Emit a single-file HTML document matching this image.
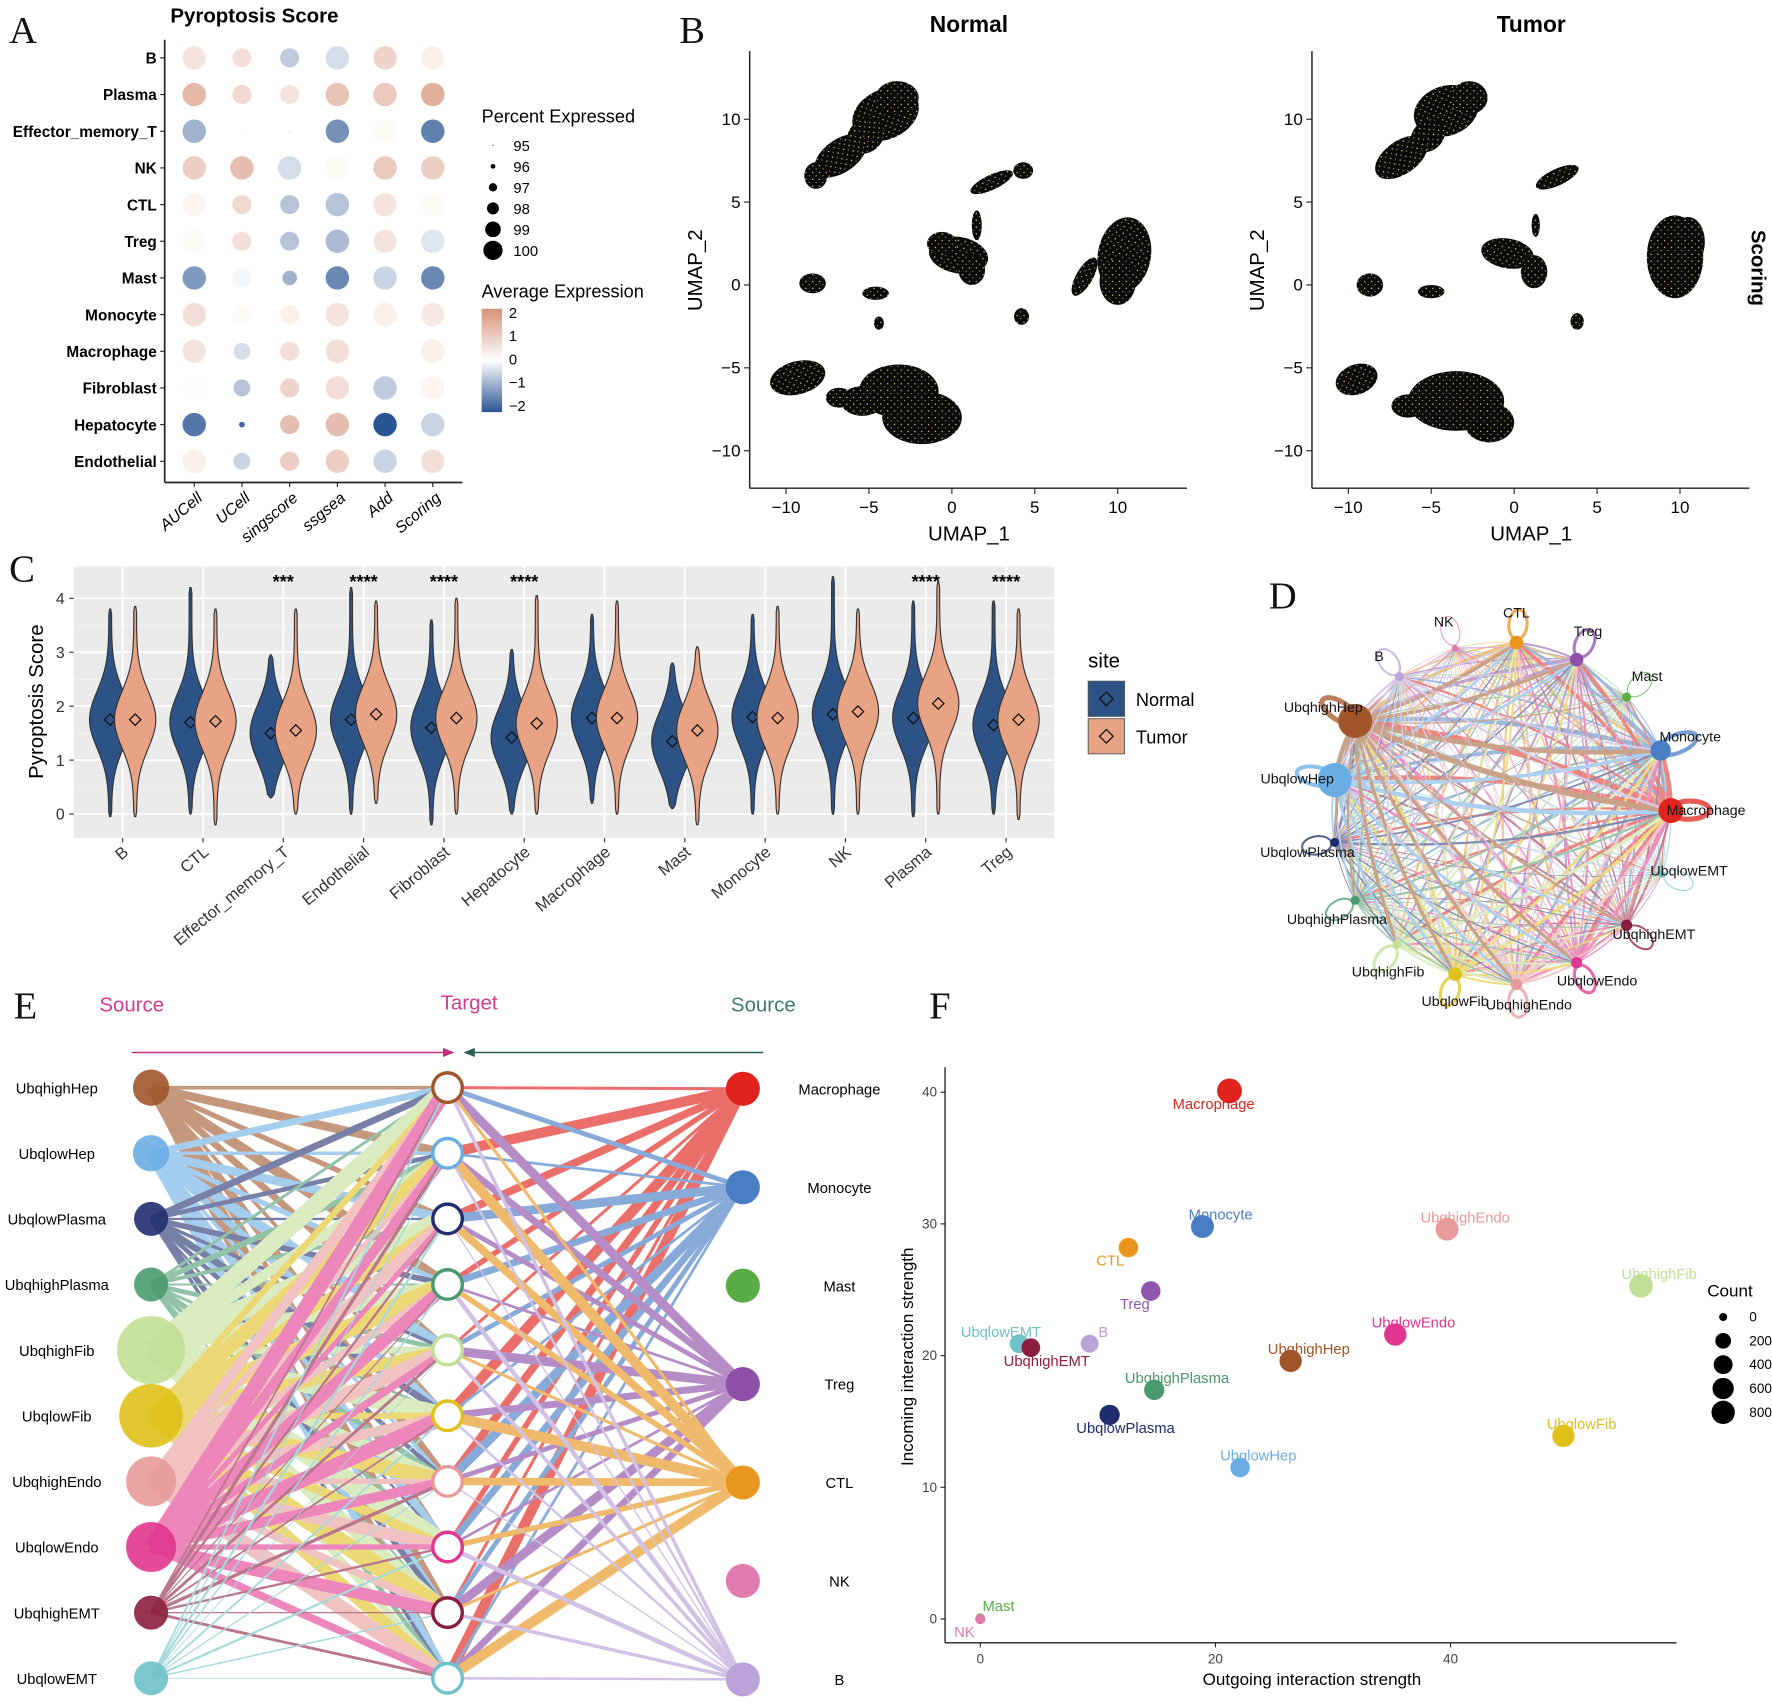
<!DOCTYPE html>
<html><head><meta charset="utf-8"><style>
html,body{margin:0;padding:0;background:#fff;}
svg{display:block;font-family:"Liberation Sans",sans-serif;}
</style></head><body>
<svg id="fig" width="1772" height="1703" viewBox="0 0 1560 1500" preserveAspectRatio="none" xmlns="http://www.w3.org/2000/svg">
<defs>
<pattern id="speck" width="6" height="6" patternUnits="userSpaceOnUse">
<rect width="6" height="6" fill="#0b0b0b"/>
<circle cx="1.5" cy="2" r="0.6" fill="#e9d99a"/><circle cx="4.5" cy="4.8" r="0.5" fill="#d9c27a"/>
</pattern>
<linearGradient id="cbar" x1="0" y1="0" x2="0" y2="1">
<stop offset="0" stop-color="#d6937a"/><stop offset="0.5" stop-color="#ffffff"/><stop offset="1" stop-color="#2b5592"/>
</linearGradient>
</defs>
<g id="letters" font-family="Liberation Serif, serif" font-size="34" fill="#111">
<text x="8" y="38">A</text>
<text x="598" y="38">B</text>
<text x="8" y="512">C</text>
<text x="1117" y="536">D</text>
<text x="12" y="897">E</text>
<text x="818" y="897">F</text>
</g>
<g id="pa"></g><g id="pb"></g><g id="pc"></g><g id="pd"></g><g id="pe"></g><g id="pf"></g>
</svg>
<script>
const NS="http://www.w3.org/2000/svg";
function el(parent,tag,attrs,text){const e=document.createElementNS(NS,tag);for(const k in attrs)e.setAttribute(k,attrs[k]);if(text!==undefined)e.textContent=text;parent.appendChild(e);return e;}

// ---------- Panel A data ----------
const aRows=["B","Plasma","Effector_memory_T","NK","CTL","Treg","Mast","Monocyte","Macrophage","Fibroblast","Hepatocyte","Endothelial"];
const aCols=["AUCell","UCell","singscore","ssgsea","Add","Scoring"];
const aExpr=[[0.5,0.6,-0.6,-0.4,0.8,0.3],[1.3,0.7,0.5,1.1,1.0,1.5],[-0.9,-0.2,-0.5,-1.3,0.1,-1.5],[0.9,1.2,-0.4,0.1,1.0,0.9],[0.2,0.7,-0.7,-0.7,0.5,0.1],[0.1,0.6,-0.7,-0.8,0.5,-0.3],[-1.2,-0.1,-0.9,-1.4,-0.5,-1.4],[0.6,0.1,0.3,0.5,0.3,0.4],[0.5,-0.4,0.6,0.6,0.0,0.3],[0.05,-0.7,0.8,0.6,-0.6,0.2],[-1.6,-1.8,1.2,1.2,-2.0,-0.5],[0.3,-0.5,0.9,0.9,-0.5,0.6]];
const aPct=[[100,99,99,100,100,100],[100,99,99,100,100,100],[100,95,95,100,100,100],[100,100,100,100,100,100],[100,99,99,100,100,100],[100,99,99,100,100,100],[100,99,98,100,100,100],[100,99,99,100,100,100],[100,98.5,99,100,100,100],[100,98.5,99,100,100,100],[100,96,99,100,100,100],[100,98.5,99,100,100,100]];
const aSizeTicks=[95,96,97,98,99,100];
const aColorTicks=[2,1,0,-1,-2];

// ---------- Panel C data ----------
const cCats=["B","CTL","Effector_memory_T","Endothelial","Fibroblast","Hepatocyte","Macrophage","Mast","Monocyte","NK","Plasma","Treg"];
const cNormMed=[1.75,1.7,1.5,1.75,1.6,1.42,1.78,1.35,1.8,1.85,1.78,1.65];
const cTumMed=[1.75,1.72,1.55,1.85,1.78,1.68,1.78,1.55,1.78,1.9,2.05,1.75];
const cNormMax=[3.8,4.2,2.95,4.2,3.6,3.05,3.7,2.8,3.7,4.4,3.95,3.95];
const cTumMax=[3.85,3.8,3.8,3.95,4.0,4.05,3.95,3.1,3.85,3.8,4.3,3.8];
const cNormMin=[-0.05,0.0,0.3,0.0,-0.2,0.0,0.2,0.1,0.0,0.0,-0.05,0.0];
const cTumMin=[-0.05,-0.2,0.0,0.2,0.0,0.0,0.0,-0.2,0.0,0.0,0.0,-0.1];
const cStars=["","","***","****","****","****","","","","","****","****"];
const cYTicks=[0,1,2,3,4];

// ---------- Panel F data ----------
const fNames=["Macrophage","Monocyte","UbqhighEndo","UbqhighFib","CTL","Treg","UbqlowEMT","UbqhighEMT","B","UbqhighHep","UbqlowEndo","UbqhighPlasma","UbqlowPlasma","UbqlowFib","UbqlowHep","Mast","NK"];
const fOut=[21.2,18.9,39.7,56.2,12.6,14.5,3.3,4.3,9.3,26.4,35.3,14.8,11.0,49.6,22.1,0.0,0.0];
const fIn=[40.1,29.8,29.6,25.3,28.2,24.9,20.9,20.6,20.9,19.6,21.6,17.4,15.5,13.9,11.5,0.1,0.0];
const fCount=[800,650,650,700,400,400,350,350,300,600,600,450,450,600,400,10,30];
const fColors=["#e0231c","#4a7ec4","#e89a9a","#c3df95","#e8961e","#9057b0","#6ec1c8","#8b1e3f","#b9a3d8","#a0552a","#e0368f","#4a9a6e","#1f2d6e","#e0c11a","#6aade4","#5aac44","#e07bb0"];
const fXTicks=[0,20,40];
const fYTicks=[0,10,20,30,40];
const fCountTicks=[0,200,400,600,800];

// ---------- Panel E data ----------
const eLeft=["UbqhighHep","UbqlowHep","UbqlowPlasma","UbqhighPlasma","UbqhighFib","UbqlowFib","UbqhighEndo","UbqlowEndo","UbqhighEMT","UbqlowEMT"];
const eLeftCol=["#a0552a","#6aade4","#1f2d6e","#4a9a6e","#c3df95","#e0c11a","#e89a9a","#e0368f","#8b1e3f","#6ec1c8"];
const eLeftSize=[16,16,15,15,30,28,22,22,15,15];
const eLeftW=[9,9,6,5,18,16,13,13,3,2];
const eRight=["Macrophage","Monocyte","Mast","Treg","CTL","NK","B"];
const eRightCol=["#e0231c","#4a7ec4","#5aac44","#8e4fa8","#e8961e","#e07bb0","#b9a3d8"];
const eRightW=[9,8,0,8,9,0,4];

// ---------- Panel D data ----------
const dNodes=["NK","CTL","Treg","Mast","Monocyte","Macrophage","UbqlowEMT","UbqhighEMT","UbqlowEndo","UbqhighEndo","UbqlowFib","UbqhighFib","UbqhighPlasma","UbqlowPlasma","UbqlowHep","UbqhighHep","B"];
const dCols=["#e07bb0","#e8961e","#8e4fa8","#5aac44","#4a7ec4","#e0231c","#6ec1c8","#8b1e3f","#e0368f","#e89a9a","#e0c11a","#c3df95","#4a9a6e","#1f2d6e","#6aade4","#a0552a","#b9a3d8"];
const dSize=[3,6,6,4,9,11,3,5,5,5,6,4,4,4,15,15,4];
const dWeight=[1,3,3,1,4,5,1,2,3,3,3,3,2,2,4,5,2];
// node layout (pixel positions, not data)
const dPos=[[1281,571],[1335,566],[1388,581],[1432,614],[1462,661],[1471,714],[1463,770],[1432,815],[1388,848],[1335,867],[1281,858],[1230,832],[1193,793],[1175,742],[1175,687],[1193,635],[1232,596]];
const dLab=[[1271,552,'middle'],[1335,544,'middle'],[1398,560,'middle'],[1450,600,'middle'],[1488,653,'middle'],[1502,718,'middle'],[1487,771,'middle'],[1456,827,'middle'],[1406,868,'middle'],[1346,889,'middle'],[1281,886,'middle'],[1222,860,'middle'],[1177,814,'middle'],[1151,755,'middle'],[1142,690,'middle'],[1165,627,'middle'],[1214,582,'middle']];

// ===== Panel A =====
(function(){
const g=document.getElementById('pa');
const x0=171,dx=42,y0=51,dy=32.3;
const X=i=>x0+i*dx,Y=r=>y0+r*dy;
function col(v){v=Math.max(-2,Math.min(2,v));let t=Math.abs(v)/2;let c=v>=0?[214,147,122]:[43,85,146];let r=Math.round(255+(c[0]-255)*t),gg=Math.round(255+(c[1]-255)*t),b=Math.round(255+(c[2]-255)*t);return `rgb(${r},${gg},${b})`;}
const rad=p=>Math.max(0.6,(p-94.7)*1.95);
el(g,'text',{x:224,y:20,'font-size':18,'font-weight':'bold','text-anchor':'middle',},'Pyroptosis Score');
el(g,'line',{x1:145,y1:35,x2:145,y2:425,stroke:'#222','stroke-width':1.5,});
el(g,'line',{x1:145,y1:425,x2:407,y2:425,stroke:'#222','stroke-width':1.5,});
aRows.forEach((r,ri)=>{
 const t=el(g,'text',{x:138,y:Y(ri)+5,'font-size':13.5,'font-weight':'bold','text-anchor':'end'},r);
 
 
 el(g,'line',{x1:141,y1:Y(ri),x2:145,y2:Y(ri),stroke:'#222'});
 aCols.forEach((c,ci)=>{
  const d=el(g,'circle',{cx:X(ci),cy:Y(ri),r:rad(aPct[ri][ci]),fill:col(aExpr[ri][ci])});
  
  
 });
});
aCols.forEach((c,ci)=>{
 el(g,'line',{x1:X(ci),y1:425,x2:X(ci),y2:429,stroke:'#222'});
 const t=el(g,'text',{x:X(ci)+8,y:440,'font-size':14,'font-style':'italic','text-anchor':'end',transform:`rotate(-40 ${X(ci)+8} 440)`},c);
 
 
});
el(g,'text',{x:424,y:108,'font-size':16,},'Percent Expressed');
aSizeTicks.forEach((p,i)=>{const yy=128+i*18.5;
 const c=el(g,'circle',{cx:434,cy:yy,r:rad(p)*0.82,fill:'#000'});
 
 el(g,'text',{x:452,y:yy+5,'font-size':13},String(p));});
el(g,'text',{x:424,y:262,'font-size':16,},'Average Expression');
el(g,'rect',{x:424,y:272,width:18,height:91,fill:'url(#cbar)',});
aColorTicks.forEach((v,i)=>{const yy=275+i*20.5;el(g,'text',{x:448,y:yy+5,'font-size':13},v<0?'\u2212'+(-v):String(v));});
})();

// ===== Panel B =====
const bNormal=[[-4,10.3,2.1,1.5,-25],[-3.3,11.3,1.3,1.0,0],[-5.2,9.0,1.2,1.0,-40],[-6.7,7.8,1.8,1.0,-35],[-8.2,6.6,0.7,0.8,0],[2.4,6.2,1.4,0.45,-25],[4.3,6.9,0.6,0.5,0],[0.4,1.8,1.8,1.1,10],[-0.6,2.5,0.9,0.7,0],[1.5,3.6,0.3,0.9,0],[1.2,0.9,0.8,0.9,0],[10.4,1.8,1.6,2.3,10],[10.0,0.2,1.1,1.4,0],[8.0,0.5,0.5,1.3,30],[-8.4,0.1,0.8,0.6,0],[-4.6,-0.5,0.8,0.4,0],[-4.4,-2.3,0.3,0.4,0],[4.2,-1.9,0.45,0.5,0],[-9.3,-5.6,1.7,1.0,-15],[-3.2,-6.4,2.4,1.6,0],[-1.8,-8.0,2.4,1.6,0],[-5.4,-7.0,1.3,0.9,0],[-6.8,-6.8,0.8,0.6,0]];
const bTumor=[[-4.1,10.5,2.0,1.5,-20],[-2.7,11.3,1.1,1.0,0],[-5.2,9.0,1.1,0.9,-40],[-6.8,7.7,1.8,1.0,-35],[2.6,6.5,1.4,0.5,-25],[-0.4,1.9,1.6,0.9,10],[1.2,0.8,0.8,1.0,0],[1.3,3.6,0.25,0.7,0],[9.7,1.7,1.7,2.5,0],[10.5,2.6,1.0,1.5,0],[-8.7,0.0,0.8,0.7,0],[-5.0,-0.4,0.8,0.4,0],[3.8,-2.2,0.4,0.5,0],[-9.5,-5.7,1.3,0.9,-20],[-3.5,-7.0,2.9,1.8,0],[-1.5,-8.3,1.5,1.2,0],[-6.4,-7.3,1.0,0.7,0]];
const bXTicks=[-10,-5,0,5,10];
const bYTicks=[-10,-5,0,5,10];
(function(){
const g=document.getElementById('pb');
function umap(ox,title,clusters,key){
 const Y=v=>251-14.6*v;
 const ax=ox;
 const sx=v=>ox+178+14.6*v;
 const gg=el(g,'g',{});
 
 
 el(gg,'text',{x:ox+193,y:28,'font-size':20,'font-weight':'bold','text-anchor':'middle'},title);
 clusters.forEach(c=>{
  const e=el(gg,'ellipse',{cx:sx(c[0]),cy:Y(c[1]),rx:c[2]*14.6,ry:c[3]*14.6,fill:'url(#speck)',transform:`rotate(${c[4]} ${sx(c[0])} ${Y(c[1])})`});
  
  
 });
 el(gg,'line',{x1:ax,y1:45,x2:ax,y2:430,stroke:'#222','stroke-width':1.3});
 el(gg,'line',{x1:ax,y1:430,x2:ax+385,y2:430,stroke:'#222','stroke-width':1.3});
 bXTicks.forEach(v=>{el(gg,'line',{x1:sx(v),y1:430,x2:sx(v),y2:435,stroke:'#222'});el(gg,'text',{x:sx(v),y:452,'font-size':15,'text-anchor':'middle'},v<0?'\u2212'+(-v):String(v));});
 bYTicks.forEach(v=>{el(gg,'line',{x1:ax-5,y1:Y(v),x2:ax,y2:Y(v),stroke:'#222'});el(gg,'text',{x:ax-8,y:Y(v)+5,'font-size':15,'text-anchor':'end'},v<0?'\u2212'+(-v):String(v));});
 el(gg,'text',{x:ax+193,y:476,'font-size':18,'text-anchor':'middle'},'UMAP_1');
 el(gg,'text',{x:ax-42,y:238,'font-size':18,'text-anchor':'middle',transform:`rotate(-90 ${ax-42} 238)`},'UMAP_2');
}
umap(660,'Normal',bNormal,'normal');
umap(1155,'Tumor',bTumor,'tumor');
el(g,'text',{x:1542,y:236,'font-size':18,'font-weight':'bold','text-anchor':'middle',transform:'rotate(90 1542 236)',},'Scoring');
})();

// ===== Panel C =====
(function(){
const g=document.getElementById('pc');
const Y=v=>717-47.5*v, CX=i=>108+i*70.7;
el(g,'rect',{x:65,y:499,width:863,height:239,fill:'#ebebeb',});
[0.5,1.5,2.5,3.5].forEach(v=>el(g,'line',{x1:65,x2:928,y1:Y(v),y2:Y(v),stroke:'#f5f5f5','stroke-width':0.8}));
cYTicks.forEach(v=>{el(g,'line',{x1:65,x2:928,y1:Y(v),y2:Y(v),stroke:'#fff','stroke-width':1.5});el(g,'line',{x1:61,x2:65,y1:Y(v),y2:Y(v),stroke:'#333'});el(g,'text',{x:57,y:Y(v)+5,'font-size':14,'text-anchor':'end',fill:'#333'},String(v));});
cCats.forEach((c,i)=>el(g,'line',{x1:CX(i),x2:CX(i),y1:499,y2:738,stroke:'#fff','stroke-width':1.5}));
el(g,'text',{x:38,y:618,'font-size':18,'text-anchor':'middle',transform:'rotate(-90 38 618)',},'Pyroptosis Score');
function violin(cx,med,mn,mx,fill,name){
 const W=17,n=40;let L=[],R=[];
 for(let k=0;k<=n;k++){const v=mn+(mx-mn)*k/n;let w=W*Math.exp(-Math.pow((v-med)/0.75,2))+1.2;if(v<med)w=Math.max(w,W*Math.exp(-Math.pow((v-med)/0.5,2))+1.2);if(k===0||k===n)w=0.5;R.push([cx+w,Y(v)]);L.push([cx-w,Y(v)]);}
 let d='M'+R.map(p=>p.join(',')).join('L')+'L'+L.reverse().map(p=>p.join(',')).join('L')+'Z';
 const p=el(g,'path',{d:d,fill:fill,stroke:'#333','stroke-width':1});
 
 const s=5;el(g,'path',{d:`M${cx},${Y(med)-s}L${cx+s},${Y(med)}L${cx},${Y(med)+s}L${cx-s},${Y(med)}Z`,fill:'none',stroke:'#111','stroke-width':1.1});
}
cCats.forEach((c,i)=>{
 violin(CX(i)-11,cNormMed[i],cNormMin[i],cNormMax[i],'#2d5386','violin-normal-'+c.toLowerCase());
 violin(CX(i)+11,cTumMed[i],cTumMin[i],cTumMax[i],'#e8a284','violin-tumor-'+c.toLowerCase());
 if(cStars[i]) el(g,'text',{x:CX(i),y:518,'font-size':16,'text-anchor':'middle','font-weight':'bold'},cStars[i]);
 el(g,'line',{x1:CX(i),x2:CX(i),y1:738,y2:742,stroke:'#333'});
 const t=el(g,'text',{x:CX(i)+6,y:752,'font-size':14.5,'text-anchor':'end',fill:'#333',transform:`rotate(-40 ${CX(i)+6} 752)`},c);
 
});
el(g,'text',{x:958,y:588,'font-size':18,},'site');
[['Normal','#2d5386',600],['Tumor','#e8a284',633]].forEach(a=>{
 const r=el(g,'rect',{x:958,y:a[2],width:32,height:31,fill:a[1],stroke:'#555','stroke-width':0.8});
 
 const cx=974,cy=a[2]+15.5;el(g,'path',{d:`M${cx},${cy-6}L${cx+6},${cy}L${cx},${cy+6}L${cx-6},${cy}Z`,fill:'none',stroke:'#111','stroke-width':1.1});
 el(g,'text',{x:1000,y:a[2]+22,'font-size':16},a[0]);});
})();

// ===== Panel D =====
(function(){
const g=document.getElementById('pd');
const cx=1322,cy=718;
const eg=el(g,'g',{opacity:0.55});

for(let i=0;i<dNodes.length;i++)for(let j=0;j<dNodes.length;j++){if(i===j)continue;const a=dPos[i],b=dPos[j];
 const w=Math.max(0.5,dWeight[i]*dWeight[j]/5);
 el(eg,'path',{d:`M${a[0]},${a[1]}Q${(a[0]+b[0])/2+((a[1]-b[1])*0.08)},${(a[1]+b[1])/2-((a[0]-b[0])*0.08)} ${b[0]},${b[1]}`,fill:'none',stroke:dCols[i],'stroke-width':w});}
dNodes.forEach((n,i)=>{const p=dPos[i];const a=Math.atan2(p[1]-cy,p[0]-cx);
 const lx=p[0]+16*Math.cos(a),ly=p[1]+16*Math.sin(a);
 el(g,'ellipse',{cx:lx,cy:ly,rx:dSize[i]>8?18:13,ry:8,fill:'none',stroke:dCols[i],'stroke-width':dWeight[i]*0.9,opacity:0.75,transform:`rotate(${a*180/Math.PI} ${lx} ${ly})`});
});
dNodes.forEach((n,i)=>{const p=dPos[i];
 const c=el(g,'circle',{cx:p[0],cy:p[1],r:dSize[i],fill:dCols[i]});
 
 const L=dLab[i];
 const t=el(g,'text',{x:L[0],y:L[1],'font-size':12.5,'text-anchor':L[2],fill:'#111'},n);
 
});
})();

// ===== Panel E =====
(function(){
const g=document.getElementById('pe');
const LX=133,TX=394,RX=654;
const LY=i=>958+i*57.8, RY=i=>959+i*86.7;
el(g,'text',{x:116,y:891,'font-size':18,fill:'#d63a8e','text-anchor':'middle',},'Source');
el(g,'text',{x:413,y:889,'font-size':18,fill:'#d63a8e','text-anchor':'middle',},'Target');
el(g,'text',{x:672,y:891,'font-size':18,fill:'#3d7a70','text-anchor':'middle',},'Source');
el(g,'line',{x1:116,y1:927,x2:394,y2:927,stroke:'#c0307e','stroke-width':1.3});
el(g,'path',{d:'M400,927L390,923L390,931Z',fill:'#c0307e'});
el(g,'line',{x1:672,y1:927,x2:414,y2:927,stroke:'#2e5e58','stroke-width':1.3});
el(g,'path',{d:'M408,927L418,923L418,931Z',fill:'#2e5e58'});
const eg=el(g,'g',{opacity:0.6});

eLeft.forEach((n,i)=>eLeft.forEach((m,j)=>{const w=eLeftW[i]*(0.35+0.65*((i*7+j*3)%5)/4);
 el(eg,'line',{x1:LX,y1:LY(i),x2:TX,y2:LY(j),stroke:eLeftCol[i],'stroke-width':w});}));
const rg=el(g,'g',{opacity:0.65});

eRight.forEach((n,i)=>{if(!eRightW[i])return;eLeft.forEach((m,j)=>{const w=eRightW[i]*(0.3+0.7*((i*5+j*3)%4)/3);
 el(rg,'line',{x1:RX,y1:RY(i),x2:TX,y2:LY(j),stroke:eRightCol[i],'stroke-width':w});});});
eLeft.forEach((n,i)=>{
 const c=el(g,'circle',{cx:LX,cy:LY(i),r:eLeftSize[i],fill:eLeftCol[i],opacity:0.9});
 
 const t=el(g,'circle',{cx:TX,cy:LY(i),r:13,fill:'#fff',stroke:eLeftCol[i],'stroke-width':3});
 
 el(g,'text',{x:50,y:LY(i)+5,'font-size':13,'text-anchor':'middle'},n);
});
eRight.forEach((n,i)=>{
 const c=el(g,'circle',{cx:RX,cy:RY(i),r:15,fill:eRightCol[i]});
 
 el(g,'text',{x:739,y:RY(i)+5,'font-size':13,'text-anchor':'middle'},n);
});
})();

// ===== Panel F =====
(function(){
const g=document.getElementById('pf');
const X=v=>863+10.35*v, Y=v=>1426-11.6*v;
const rad=c=>3+Math.sqrt(c)*0.28;
el(g,'line',{x1:832,y1:940,x2:832,y2:1447,stroke:'#222','stroke-width':1.2,});
el(g,'line',{x1:832,y1:1447,x2:1476,y2:1447,stroke:'#222','stroke-width':1.2,});
fXTicks.forEach(v=>{el(g,'line',{x1:X(v),x2:X(v),y1:1447,y2:1451,stroke:'#222'});el(g,'text',{x:X(v),y:1465,'font-size':12,'text-anchor':'middle',fill:'#444'},String(v));});
fYTicks.forEach(v=>{el(g,'line',{x1:828,x2:832,y1:Y(v),y2:Y(v),stroke:'#222'});el(g,'text',{x:825,y:Y(v)+4,'font-size':12,'text-anchor':'end',fill:'#444'},String(v));});
el(g,'text',{x:1155,y:1484,'font-size':15,'text-anchor':'middle',},'Outgoing interaction strength');
el(g,'text',{x:804,y:1195,'font-size':15,'text-anchor':'middle',transform:'rotate(-90 804 1195)',},'Incoming interaction strength');
fNames.forEach((n,i)=>{
 const c=el(g,'circle',{cx:X(fOut[i]),cy:Y(fIn[i]),r:rad(fCount[i]),fill:fColors[i]});
 
 const dy=(n==='UbqlowPlasma'||n==='UbqhighEMT'||n==='Macrophage'||n==='Treg'||n==='CTL'||n==='NK')?16:-6;
 let dx=(n==='B')?12:((n==='UbqhighEMT'||n==='UbqlowPlasma')?14:((n==='UbqlowEMT')?-16:(n==='UbqhighPlasma'?20:(n==='UbqlowEndo'?16:(n==='Mast'?16:(n==='NK'?-14:16))))));
 if(n==='CTL')dx=-16; if(n==='Treg')dx=-14; if(n==='Macrophage')dx=-14; if(n==='Monocyte')dx=16;
 const t=el(g,'text',{x:X(fOut[i])+dx,y:Y(fIn[i])+dy,'font-size':13,'text-anchor':'middle',fill:fColors[i]},n);
 
});
el(g,'text',{x:1523,y:1142,'font-size':15,'text-anchor':'middle',},'Count');
fCountTicks.forEach((c,i)=>{const yy=1160+i*21;
 const d=el(g,'circle',{cx:1517,cy:yy,r:rad(c)*0.85+1,fill:'#000'});
 
 el(g,'text',{x:1540,y:yy+4,'font-size':12},String(c));});
})();
</script>
</body></html>
